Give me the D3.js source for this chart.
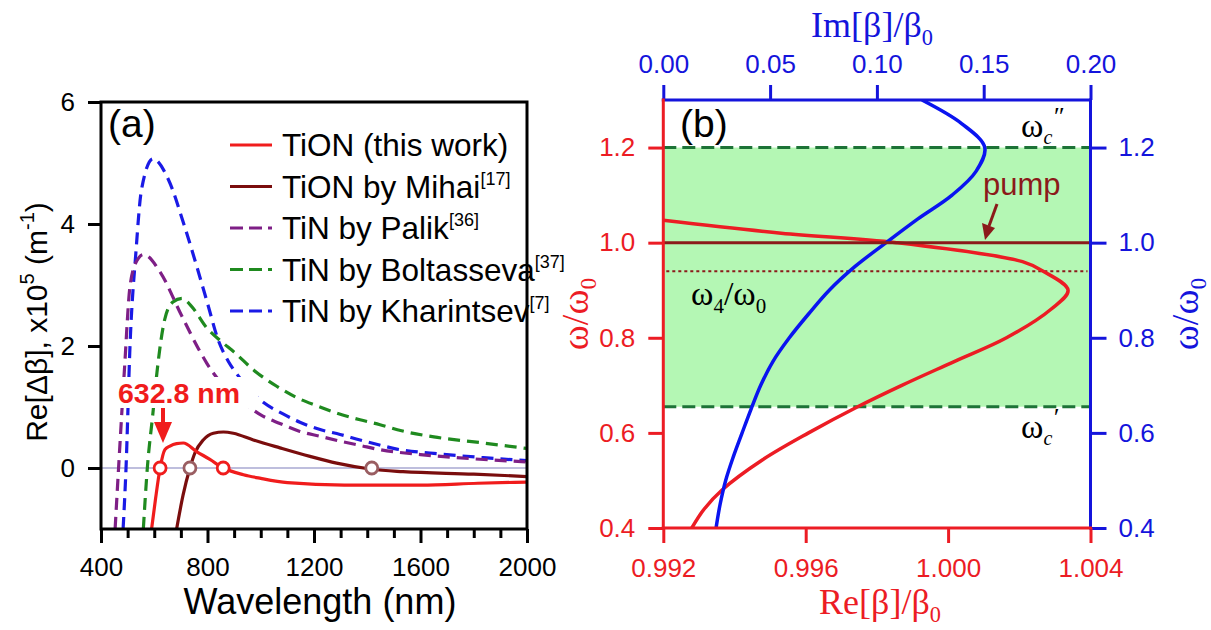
<!DOCTYPE html>
<html lang="en">
<head>
<meta charset="UTF-8">
<title>TiON / TiN dispersion</title>
<script src="https://d3js.org/d3.v7.min.js"></script>
<style>
  body { margin: 0; background: #fff; }
  svg { display: block; }
</style>
</head>
<body>
<svg id="chart" width="1211" height="630"></svg>
<script>
// ---- panel (a): Re[Δβ] vs wavelength, [nm, x1e5 m^-1]
const lambdaTicks = [400, 800, 1200, 1600, 2000];
const lambdaMinor = [500, 600, 700, 900, 1000, 1100, 1300, 1400, 1500, 1700, 1800, 1900];
const deltaTicks = [0, 2, 4, 6];

const tionThisWork = [[590,-1],[605,-0.5],[622,0],[640,0.3],[659,0.36],[684,0.4],[709,0.41],[759,0.27],[809,0.14],
  [859,0],[935,-0.11],[1000,-0.17],[1100,-0.24],[1314,-0.28],[1602,-0.28],[1815,-0.25],[2000,-0.23]];
const tionMihai = [[684,-1],[708,-0.45],[734,0],[753,0.25],[784,0.46],[822,0.57],[860,0.59],[897,0.57],[972,0.46],
  [1072,0.33],[1185,0.19],[1285,0.08],[1417,-0.02],[1534,-0.06],[1800,-0.1],[2000,-0.14]];
const tinPalik = [[453,-1],[466,0],[488,1.61],[509,2.98],[535,3.4],[560,3.5],[624,3.2],[697,2.55],[768,1.94],[797,1.72],
  [850,1.4],[900,1.18],[950,1.02],[1000,0.87],[1072,0.73],[1147,0.6],[1223,0.52],[1298,0.44],[1373,0.37],
  [1448,0.3],[1600,0.22],[1800,0.15],[2000,0.1]];
const tinBoltasseva = [[559,-1],[574,0],[595,0.9],[610,1.56],[639,2.43],[670,2.72],[705,2.78],[740,2.65],[797,2.3],
  [850,2.08],[900,1.9],[975,1.6],[1060,1.34],[1132,1.16],[1210,1.02],[1285,0.9],[1373,0.79],[1448,0.71],
  [1529,0.61],[1650,0.51],[1836,0.41],[2000,0.32]];
const tinKharintsev = [[483,-1],[494,0],[509,2.01],[531,3.53],[552,4.56],[595,5.07],[653,4.73],[711,4.0],[760,3.3],
  [800,2.7],[840,2.1],[878,1.75],[912,1.53],[960,1.27],[1012,1.07],[1082,0.89],[1147,0.75],[1223,0.63],
  [1298,0.55],[1373,0.46],[1435,0.39],[1511,0.31],[1650,0.24],[1836,0.17],[2000,0.12]];

const zeroRed = [622, 859];
const zeroMihai = [734, 1417];
const pumpLambda = 632.8;

const seriesA = [
  { name: "TiON (this work)", ref: "", data: tionThisWork, color: "#f01c1c", dash: null },
  { name: "TiON by Mihai", ref: "[17]", data: tionMihai, color: "#7a0d0d", dash: null },
  { name: "TiN by Palik", ref: "[36]", data: tinPalik, color: "#7e1f86", dash: "12,7" },
  { name: "TiN by Boltasseva", ref: "[37]", data: tinBoltasseva, color: "#1f8a1f", dash: "12,7" },
  { name: "TiN by Kharintsev", ref: "[7]", data: tinKharintsev, color: "#1a1ae6", dash: "12,7" }
];

// ---- panel (b): [ω/ω0, value]
const omegaTicks = [0.4, 0.6, 0.8, 1.0, 1.2];
const reTicks = [0.992, 0.996, 1.000, 1.004];
const imTicks = [0, 0.05, 0.10, 0.15, 0.20];

const reBeta = [[0.4,0.9928],[0.44,0.99315],[0.48,0.99365],[0.543,0.99478],[0.6,0.99608],[0.655,0.99746],[0.7,0.9987],
  [0.75,1.00017],[0.8,1.00164],[0.86,1.00289],[0.9,1.00337],[0.94,1.00267],[0.96,1.00209],[1.0,0.99855],
  [1.02,0.99531],[1.047,0.992]];
const imBeta = [[0.4,0.0247],[0.45,0.0266],[0.5,0.0292],[0.55,0.0328],[0.6,0.0369],[0.65,0.0411],[0.7,0.0456],
  [0.75,0.0513],[0.8,0.059],[0.85,0.068],[0.9,0.0777],[0.95,0.0898],[1.0,0.1043],[1.05,0.1192],[1.1,0.1352],
  [1.15,0.1464],[1.2,0.1505],[1.25,0.1398],[1.3,0.1211]];

const omegaLow = 0.655, omegaHigh = 1.2, omegaPump = 1.0, omega4 = 0.94;

const sans = "'Liberation Sans', Arial, sans-serif";
const serif = "'Liberation Serif', 'Times New Roman', serif";
const svg = d3.select("#chart");

// ================= panel (a) =================
const xA = d3.scaleLinear().domain([400, 2000]).range([101, 527]);
const yA = d3.scaleLinear().domain([-1, 6]).range([529, 102]);

svg.append("clipPath").attr("id", "clipA").append("rect")
  .attr("x", xA(400)).attr("y", yA(6)).attr("width", xA(2000) - xA(400)).attr("height", yA(-1) - yA(6));

svg.append("line").attr("x1", xA(400)).attr("x2", xA(2000)).attr("y1", yA(0)).attr("y2", yA(0))
  .attr("stroke", "#a9a9d2").attr("stroke-width", 1.5);

const lineA = d3.line().x(d => xA(d[0])).y(d => yA(d[1])).curve(d3.curveMonotoneX);
const gA = svg.append("g").attr("clip-path", "url(#clipA)");
seriesA.slice().reverse().forEach(s => {
  gA.append("path").datum(s.data).attr("d", lineA)
    .attr("fill", "none").attr("stroke", s.color).attr("stroke-width", 3.2)
    .attr("stroke-dasharray", s.dash);
});

svg.append("g").selectAll("circle").data(zeroRed).enter().append("circle")
  .attr("cx", d => xA(d)).attr("cy", yA(0)).attr("r", 6)
  .attr("fill", "#fff").attr("stroke", "#f01c1c").attr("stroke-width", 2.8);
svg.append("g").selectAll("circle").data(zeroMihai).enter().append("circle")
  .attr("cx", d => xA(d)).attr("cy", yA(0)).attr("r", 6)
  .attr("fill", "#fff").attr("stroke", "#9a5e62").attr("stroke-width", 2.8);

// frame + axes
svg.append("rect").attr("x", xA(400)).attr("y", yA(6))
  .attr("width", xA(2000) - xA(400)).attr("height", yA(-1) - yA(6))
  .attr("fill", "none").attr("stroke", "#000").attr("stroke-width", 3);

function styleAxis(g, color, size) {
  g.select(".domain").remove();
  g.selectAll(".tick line").attr("stroke", color).attr("stroke-width", 3);
  g.selectAll(".tick text").attr("fill", color).style("font-family", sans).style("font-size", size + "px");
}

svg.append("g").attr("transform", `translate(0,${yA(-1)})`)
  .call(d3.axisBottom(xA).tickValues(lambdaMinor).tickSize(9).tickFormat(""))
  .call(g => styleAxis(g, "#000", 26));
svg.append("g").attr("transform", `translate(0,${yA(-1)})`)
  .call(d3.axisBottom(xA).tickValues(lambdaTicks).tickSize(14).tickPadding(15).tickFormat(d3.format("d")))
  .call(g => styleAxis(g, "#000", 26));
svg.append("g").attr("transform", `translate(${xA(400)},0)`)
  .call(d3.axisLeft(yA).tickValues(deltaTicks).tickSize(13).tickPadding(13).tickFormat(d3.format("d")))
  .call(g => styleAxis(g, "#000", 26));

svg.append("text").attr("x", 320).attr("y", 614)
  .attr("text-anchor", "middle").style("font-family", sans).style("font-size", "36px")
  .text("Wavelength (nm)");

const yLab = svg.append("text").attr("transform", "translate(47,322) rotate(-90)")
  .attr("text-anchor", "middle").style("font-family", sans).style("font-size", "30px");
yLab.append("tspan").text("Re[Δβ], x10");
yLab.append("tspan").attr("dy", -13).style("font-size", "20px").text("5");
yLab.append("tspan").attr("dy", 13).text(" (m");
yLab.append("tspan").attr("dy", -13).style("font-size", "20px").text("-1");
yLab.append("tspan").attr("dy", 13).text(")");

svg.append("text").attr("x", 108).attr("y", 137).style("font-family", sans).style("font-size", "39px").text("(a)");

// legend
const leg = svg.append("g");
seriesA.forEach((s, i) => {
  const y = 145 + i * 41.5;
  leg.append("line").attr("x1", 230).attr("x2", 272).attr("y1", y).attr("y2", y)
    .attr("stroke", s.color).attr("stroke-width", 3.2).attr("stroke-dasharray", s.dash ? "13,6" : null);
  const t = leg.append("text").attr("x", 282).attr("y", y + 11)
    .style("font-family", sans).style("font-size", "31.5px");
  t.append("tspan").text(s.name);
  if (s.ref) t.append("tspan").attr("dy", -13).style("font-size", "18px").text(s.ref);
});

// 632.8 nm annotation (white box hides the dashes behind it)
svg.append("rect").attr("x", 116).attr("y", 377).attr("width", 142).attr("height", 31).attr("fill", "#fff");
svg.append("text").attr("x", 118).attr("y", 403).attr("fill", "#f01c1c")
  .style("font-family", sans).style("font-size", "28.5px").style("font-weight", "bold").text("632.8 nm");
const ax = xA(pumpLambda);
svg.append("line").attr("x1", ax).attr("x2", ax).attr("y1", 408).attr("y2", 426)
  .attr("stroke", "#f01c1c").attr("stroke-width", 4);
svg.append("path").attr("d", `M${ax - 9},422 L${ax + 9},422 L${ax},443 Z`).attr("fill", "#f01c1c");

// ================= panel (b) =================
const xRe = d3.scaleLinear().domain([0.992, 1.004]).range([663.3, 1090.5]);
const xIm = d3.scaleLinear().domain([0, 0.2]).range([663.3, 1090.5]);
const yW = d3.scaleLinear().domain([0.4, 1.3]).range([528, 100]);
const red = "#ec1c24", blue = "#1414dc", pumpColor = "#8b1a1a";

svg.append("clipPath").attr("id", "clipB").append("rect")
  .attr("x", xRe(0.992)).attr("y", yW(1.3)).attr("width", xRe(1.004) - xRe(0.992)).attr("height", yW(0.4) - yW(1.3));

svg.append("rect").attr("x", xRe(0.992)).attr("y", yW(omegaHigh))
  .attr("width", xRe(1.004) - xRe(0.992)).attr("height", yW(omegaLow) - yW(omegaHigh))
  .attr("fill", "#b4f7b4");

[omegaHigh, omegaLow].forEach(w => {
  svg.append("line").attr("x1", xRe(0.992)).attr("x2", xRe(1.004)).attr("y1", yW(w)).attr("y2", yW(w))
    .attr("stroke", "#1d7337").attr("stroke-width", 3).attr("stroke-dasharray", "13,6");
});

svg.append("line").attr("x1", xRe(0.992) + 3).attr("x2", xRe(1.004) - 3).attr("y1", yW(omega4)).attr("y2", yW(omega4))
  .attr("stroke", pumpColor).attr("stroke-width", 2).attr("stroke-dasharray", "3,3");

const gB = svg.append("g").attr("clip-path", "url(#clipB)");
gB.append("path").datum(reBeta)
  .attr("d", d3.line().x(d => xRe(d[1])).y(d => yW(d[0])).curve(d3.curveCatmullRom.alpha(0.5)))
  .attr("fill", "none").attr("stroke", red).attr("stroke-width", 3.5);
gB.append("path").datum(imBeta)
  .attr("d", d3.line().x(d => xIm(d[1])).y(d => yW(d[0])).curve(d3.curveCatmullRom.alpha(0.5)))
  .attr("fill", "none").attr("stroke", "#0a14f0").attr("stroke-width", 3.5);

svg.append("line").attr("x1", xRe(0.992)).attr("x2", xRe(1.004)).attr("y1", yW(omegaPump)).attr("y2", yW(omegaPump))
  .attr("stroke", pumpColor).attr("stroke-width", 3);

// axes of (b)
svg.append("g").attr("transform", `translate(${xRe(0.992)},0)`)
  .call(d3.axisLeft(yW).tickValues(omegaTicks).tickSize(15).tickPadding(13).tickFormat(d3.format(".1f")))
  .call(g => styleAxis(g, red, 26));
svg.append("g").attr("transform", `translate(${xRe(1.004)},0)`)
  .call(d3.axisRight(yW).tickValues(omegaTicks).tickSize(16).tickPadding(12).tickFormat(d3.format(".1f")))
  .call(g => styleAxis(g, blue, 26));
svg.append("g").attr("transform", `translate(0,${yW(0.4)})`)
  .call(d3.axisBottom(xRe).tickValues(reTicks).tickSize(15).tickPadding(16).tickFormat(d3.format(".3f")))
  .call(g => styleAxis(g, red, 26));
svg.append("g").attr("transform", `translate(0,${yW(1.3)})`)
  .call(d3.axisTop(xIm).tickValues(imTicks).tickSize(15).tickPadding(12).tickFormat(d3.format(".2f")))
  .call(g => styleAxis(g, blue, 26));

const edge = (x1, y1, x2, y2, c) => svg.append("line").attr("x1", x1).attr("y1", y1).attr("x2", x2).attr("y2", y2)
  .attr("stroke", c).attr("stroke-width", 3).attr("stroke-linecap", "square");
edge(xRe(0.992), yW(1.3), xRe(1.004), yW(1.3), blue);
edge(xRe(1.004), yW(1.3), xRe(1.004), yW(0.4), blue);
edge(xRe(0.992), yW(1.3), xRe(0.992), yW(0.4), red);
edge(xRe(0.992), yW(0.4), xRe(1.004), yW(0.4), red);

// axis titles (b)
function subLabel(sel, main) {
  sel.append("tspan").text(main);
  sel.append("tspan").attr("dy", 8).style("font-size", "0.62em").text("0");
}
subLabel(svg.append("text").attr("x", 872).attr("y", 37).attr("text-anchor", "middle")
  .attr("fill", blue).style("font-family", serif).style("font-size", "36px"), "Im[β]/β");
subLabel(svg.append("text").attr("x", 880).attr("y", 614).attr("text-anchor", "middle")
  .attr("fill", red).style("font-family", serif).style("font-size", "36px"), "Re[β]/β");
subLabel(svg.append("text").attr("transform", "translate(588,314) rotate(-90)").attr("text-anchor", "middle")
  .attr("fill", red).style("font-family", serif).style("font-size", "38px"), "ω/ω");
subLabel(svg.append("text").attr("transform", "translate(1198,314) rotate(-90)").attr("text-anchor", "middle")
  .attr("fill", blue).style("font-family", serif).style("font-size", "38px"), "ω/ω");

svg.append("text").attr("x", 680).attr("y", 137).style("font-family", sans).style("font-size", "39px").text("(b)");

// cutoff labels: ω, subscript c, raised prime just after the c
function omegaC(x, y, prime) {
  const t = svg.append("text").attr("x", x).attr("y", y).style("font-family", serif).style("font-size", "34px");
  t.append("tspan").text("ω");
  t.append("tspan").attr("dy", 7).style("font-size", "20px").style("font-style", "italic").text("c");
  t.append("tspan").attr("dy", -19).style("font-size", "26px").style("font-style", "italic").text(prime);
}
omegaC(1021, 137, "″");
omegaC(1021, 438, "′");

const w4 = svg.append("text").attr("x", 691).attr("y", 305).style("font-family", serif).style("font-size", "34px");
w4.append("tspan").text("ω");
w4.append("tspan").attr("dy", 8).style("font-size", "21px").text("4");
w4.append("tspan").attr("dy", -8).text("/ω");
w4.append("tspan").attr("dy", 8).style("font-size", "21px").text("0");

svg.append("text").attr("x", 983).attr("y", 195).attr("fill", pumpColor)
  .style("font-family", sans).style("font-size", "31px").text("pump");
svg.append("line").attr("x1", 997).attr("y1", 204).attr("x2", 989).attr("y2", 226)
  .attr("stroke", pumpColor).attr("stroke-width", 3);
svg.append("path").attr("d", "M982,223 L995,228 L985,240 Z").attr("fill", pumpColor);
</script>
</body>
</html>
